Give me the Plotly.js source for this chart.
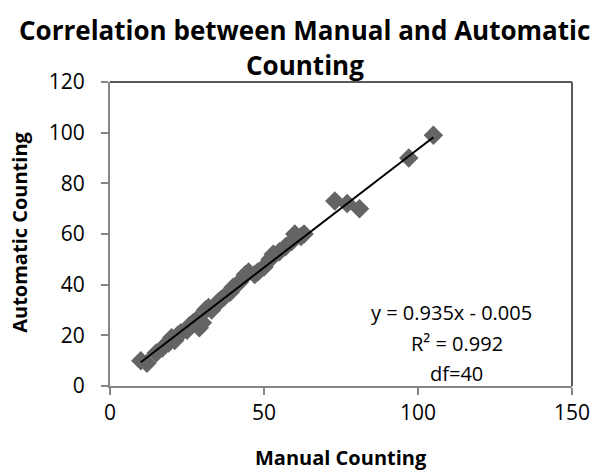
<!DOCTYPE html>
<html>
<head>
<meta charset="utf-8">
<script src="https://cdn.plot.ly/plotly-3.0.1.min.js"></script>
<style>html,body{margin:0;padding:0;background:#fff;}#chart{width:608px;height:472px;}</style>
</head>
<body>
<div id="chart"></div>
<script>
// Data
const manual    = [10, 12, 15, 17, 19, 20, 21, 22, 23, 25, 26, 27, 28, 29, 30, 31, 32, 33, 35, 36, 37, 39, 40, 42, 44, 45, 47, 48, 50, 52, 53, 55, 57, 59, 60, 62, 63, 73, 77, 81, 97, 105];
const automatic = [10,  9, 13, 15, 17, 19, 18, 20, 21, 22, 24, 25, 26, 23, 25, 30, 31, 30, 33, 34, 35, 37, 39, 41, 44, 45, 44, 45, 47, 50, 52, 53, 55, 57, 60, 59, 60, 73, 72, 70, 90, 99];
const slope = 0.935;
const intercept = -0.005;
const titleLines = ["Correlation between Manual and Automatic", "Counting"];
const xTitle = "Manual Counting";
const yTitle = "Automatic Counting";
const equationLines = ["y = 0.935x - 0.005", "R² = 0.992", "df=40"];
const xTicks = [0, 50, 100, 150];
const yTicks = [0, 20, 40, 60, 80, 100, 120];

const xMin = Math.min(...manual), xMax = Math.max(...manual);
const trendX = [xMin, xMax];
const trendY = trendX.map(x => slope * x + intercept);

const font = "Open Sans, Noto Sans, Liberation Sans, sans-serif";

const traces = [
  {
    x: manual, y: automatic, type: 'scatter', mode: 'markers',
    marker: {symbol: 'diamond', size: 15, color: '#646464', line: {width: 0}},
    hoverinfo: 'skip'
  },
  {
    x: trendX, y: trendY, type: 'scatter', mode: 'lines',
    line: {color: '#000000', width: 2}, hoverinfo: 'skip'
  },
  { // empty trace so the tick-mark overlay axis is drawn
    x: [], y: [], type: 'scatter', mode: 'markers', yaxis: 'y2', hoverinfo: 'skip'
  }
];

const layout = {
  width: 608, height: 472,
  margin: {l: 110, r: 36, t: 82, b: 86},
  paper_bgcolor: '#ffffff', plot_bgcolor: '#ffffff',
  showlegend: false,
  font: {family: font, color: '#000000'},
  xaxis: {
    range: [0, 150], tickvals: xTicks, ticktext: xTicks.map(String),
    showgrid: false, zeroline: false,
    showline: true, linecolor: '#868686', linewidth: 2,
    ticks: 'outside', ticklen: 7, tickcolor: '#868686', tickwidth: 2,
    tickfont: {size: 21, family: font}
  },
  yaxis: {
    range: [0, 120], tickvals: yTicks, ticktext: yTicks.map(String),
    showgrid: false, zeroline: false, showline: false,
    ticks: 'outside', ticklen: 20, tickcolor: 'rgba(0,0,0,0)', tickwidth: 1,
    tickfont: {size: 21, family: font}
  },
  yaxis2: {
    overlaying: 'y', side: 'left', anchor: 'x',
    range: [0, 120], tickvals: yTicks, showticklabels: false,
    showgrid: false, zeroline: false,
    showline: true, linecolor: '#868686', linewidth: 2,
    ticks: 'outside', ticklen: 7, tickcolor: '#868686', tickwidth: 2
  },
  shapes: [
    {type: 'line', xref: 'paper', yref: 'paper', x0: 0, x1: 1, y0: 1, y1: 1, line: {color: '#595959', width: 2}},
    {type: 'line', xref: 'paper', yref: 'paper', x0: 1, x1: 1, y0: 0, y1: 1, line: {color: '#595959', width: 2}}
  ],
  annotations: [
    {xref: 'paper', yref: 'paper', x: 0.422, y: 1.171, xanchor: 'center', yanchor: 'middle', showarrow: false,
     text: '<b>' + titleLines[0] + '</b>', font: {size: 26, family: font, color: '#000'}},
    {xref: 'paper', yref: 'paper', x: 0.422, y: 1.056, xanchor: 'center', yanchor: 'middle', showarrow: false,
     text: '<b>' + titleLines[1] + '</b>', font: {size: 26, family: font, color: '#000'}},
    {xref: 'paper', yref: 'paper', x: 0.5, y: -0.236, xanchor: 'center', yanchor: 'middle', showarrow: false,
     text: '<b>' + xTitle + '</b>', font: {size: 20, family: font, color: '#000'}},
    {xref: 'paper', yref: 'paper', x: -0.195, y: 0.507, xanchor: 'center', yanchor: 'middle', showarrow: false,
     textangle: -90, text: '<b>' + yTitle + '</b>', font: {size: 20, family: font, color: '#000'}},
    {xref: 'paper', yref: 'paper', x: 0.74, y: 0.243, xanchor: 'center', yanchor: 'middle', showarrow: false,
     text: equationLines[0], font: {size: 20, family: font, color: '#000'}},
    {xref: 'paper', yref: 'paper', x: 0.751, y: 0.141, xanchor: 'center', yanchor: 'middle', showarrow: false,
     text: equationLines[1], font: {size: 20, family: font, color: '#000'}},
    {xref: 'paper', yref: 'paper', x: 0.751, y: 0.04, xanchor: 'center', yanchor: 'middle', showarrow: false,
     text: equationLines[2], font: {size: 20, family: font, color: '#000'}}
  ]
};

Plotly.newPlot('chart', traces, layout, {displayModeBar: false, staticPlot: true});
</script>
</body>
</html>
